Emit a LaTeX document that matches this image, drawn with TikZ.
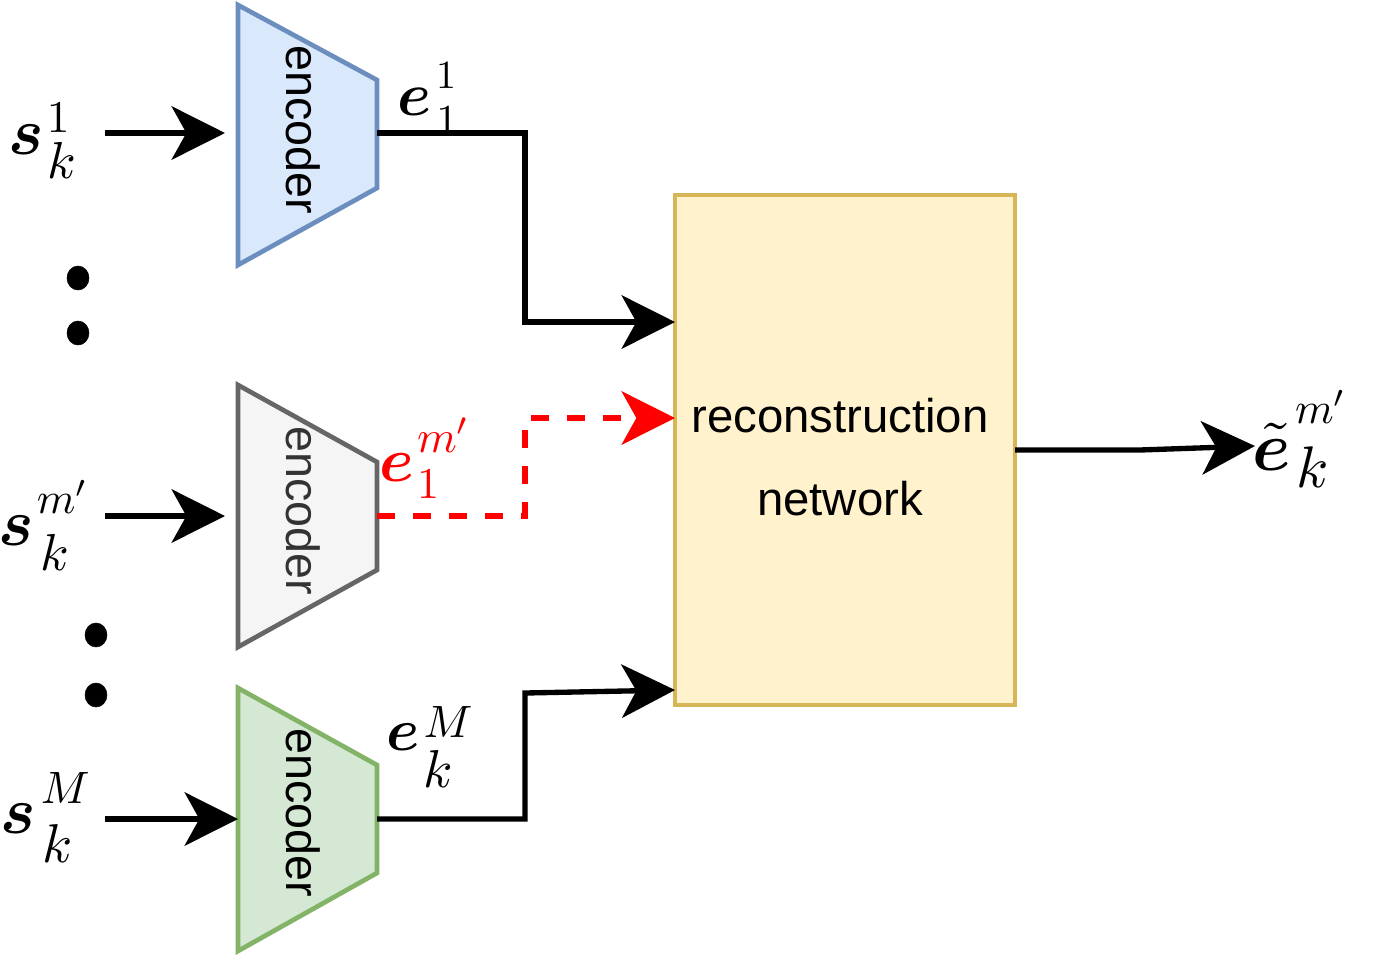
\documentclass[tikz,border=0pt]{standalone}
\usepackage{amsmath,bm}
\usepackage{fontspec}
\newfontfamily\arialf{Liberation Sans}
\usetikzlibrary{arrows.meta,calc}
\definecolor{bluefill}{HTML}{DAE8FC}
\definecolor{bluestroke}{HTML}{6C8EBF}
\definecolor{grayfill}{HTML}{F5F5F5}
\definecolor{graystroke}{HTML}{666666}
\definecolor{graytext}{HTML}{333333}
\definecolor{greenfill}{HTML}{D5E8D4}
\definecolor{greenstroke}{HTML}{82B366}
\definecolor{yelfill}{HTML}{FFF2CC}
\definecolor{yelstroke}{HTML}{D6B656}
\definecolor{myred}{HTML}{FF0000}
\begin{document}
\begin{tikzpicture}[x=0.75pt,y=-0.75pt,
  conn/.style={line width=4pt, -{Stealth[length=40pt,width=40pt,inset=11pt]}},
  encshape/.style={line width=3.5pt, line join=miter},
  enctext/.style={font=\arialf\fontsize{35}{42}\selectfont, rotate=-90, inner sep=0pt},
  bmath/.style={inner sep=0pt, anchor=base west, scale=#1},
  boxtext/.style={font=\arialf\fontsize{35.5}{42}\selectfont, inner sep=0pt, anchor=base},
  dotstyle/.style={fill=black, draw=black}
]
\useasboundingbox (0,0) rectangle (1374,954);

% encoders
\draw[encshape, draw=bluestroke, fill=bluefill] (238,5) -- (377,80) -- (377,188) -- (238,265) -- cycle;
\node[enctext] (enc1) at (303,130) {encoder};
\draw[encshape, draw=graystroke, fill=grayfill] (238,385) -- (377,462) -- (377,570) -- (238,647) -- cycle;
\node[enctext, text=graytext] (enc2) at (303,511) {encoder};
\draw[encshape, draw=greenstroke, fill=greenfill] (238,688) -- (377,765) -- (377,873) -- (238,951) -- cycle;
\node[enctext] (enc3) at (303,813) {encoder};

% reconstruction box
\node[draw=yelstroke, fill=yelfill, line width=3.5pt, inner sep=0pt,
      minimum width=255pt, minimum height=382.5pt] (recon) at (845,450) {};
\node[boxtext] (rtext1) at (840,432) {reconstruction};
\node[boxtext] (rtext2) at (840,515) {network};

% coordinates
\coordinate (in1) at (105,133);
\coordinate (in1tip) at (225,133);
\coordinate (in2) at (105,516);
\coordinate (in2tip) at (225,516);
\coordinate (in3) at (105,819);
\coordinate (in3tip) at (238,819);
\coordinate (enc1out) at (377,133);
\coordinate (enc2out) at (377,516);
\coordinate (enc3out) at (377,819);
\coordinate (rin1) at (675,322);
\coordinate (rin2) at (675,418);
\coordinate (rin3) at (675,690);
\coordinate (rout) at (1015,450);
\coordinate (outtip) at (1255,446);

% input arrows
\draw[conn] (in1) -- (in1tip);
\draw[conn] (in2) -- (in2tip);
\draw[conn] (in3) -- (in3tip);

% encoder outputs
\draw[conn] (enc1out) -- (525,133) -- (525,322) -- (rin1);
\draw[conn, myred, dash pattern=on 13.5pt off 13.5pt] (enc2out) -- (525,516) -- (525,418) -- (rin2);
\draw[conn] (enc3out) -- (525,819) -- (525,693) -- (rin3);
\draw[conn] (rout) -- (1140,450) -- (outtip);

% dots
\fill[dotstyle] (78,278) ellipse [x radius=11, y radius=12];
\fill[dotstyle] (78,333) ellipse [x radius=11, y radius=12];
\fill[dotstyle] (96,635) ellipse [x radius=11, y radius=12];
\fill[dotstyle] (96,695) ellipse [x radius=11, y radius=12];

% label s_k^1
\node[bmath=5.0] (ls1) at (7,154) {$\bm{s}$};
\node[bmath=3.4] (ls1sup) at ($(ls1.base east)+(1,-22)$) {$1$};
\node[bmath=3.9] (ls1sub) at ($(ls1.base east)+(1,24)$) {$k$};
% label s_k^{m'}
\node[bmath=5.0] (ls2) at (-3,545) {$\bm{s}$};
\node[bmath=3.3] (ls2sup) at ($(ls2.base east)+(1,-32)$) {$m'$};
\node[bmath=3.9] (ls2sub) at ($(ls2.base east)+(4,25)$) {$k$};
% label s_k^M
\node[bmath=5.0] (ls3) at (-1,833) {$\bm{s}$};
\node[bmath=3.4] (ls3sup) at ($(ls3.base east)+(3,-30)$) {$M$};
\node[bmath=4.1] (ls3sub) at ($(ls3.base east)+(4,29)$) {$k$};
% label e_1^1
\node[bmath=4.6] (le1) at (396,115) {$\bm{e}$};
\node[bmath=3.0] (le1sup) at ($(le1.base east)+(3,-27)$) {$1$};
\node[bmath=3.2] (le1sub) at ($(le1.base east)+(3,19)$) {$1$};
% label e_1^{m'} (red)
\node[bmath=4.7, text=myred] (le2) at (378,481) {$\bm{e}$};
\node[bmath=3.4, text=myred] (le2sup) at ($(le2.base east)+(1,-29)$) {$m'$};
\node[bmath=3.3, text=myred] (le2sub) at ($(le2.base east)+(1,17)$) {$1$};
% label e_k^M
\node[bmath=4.5] (le3) at (385,750) {$\bm{e}$};
\node[bmath=3.4] (le3sup) at ($(le3.base east)+(2,-13)$) {$M$};
\node[bmath=4.0] (le3sub) at ($(le3.base east)+(2,37)$) {$k$};
% output label
\node[bmath=5.2] (lout) at (1251,470) {$\tilde{\bm{e}}$};
\node[bmath=3.3] (loutsup) at ($(lout.base east)+(2,-47)$) {$m'$};
\node[bmath=4.4] (loutsub) at ($(lout.base east)+(3,17)$) {$k$};
\end{tikzpicture}
\end{document}
